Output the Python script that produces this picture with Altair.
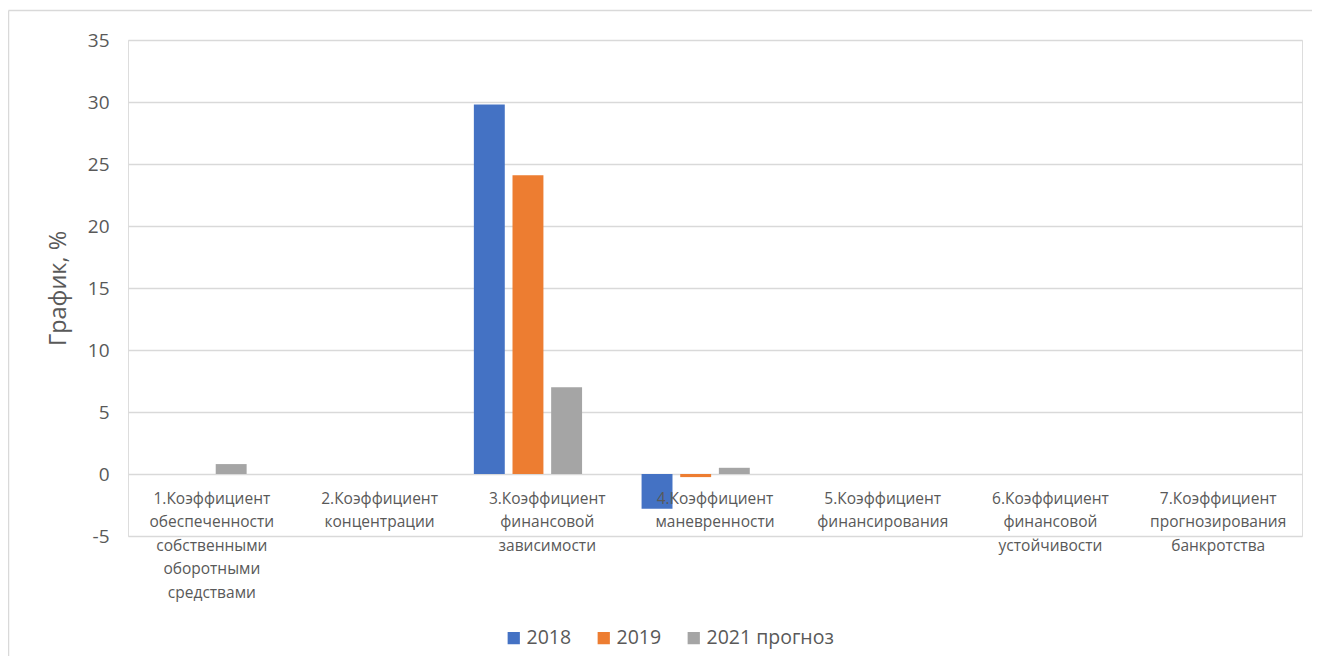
import altair as alt
import pandas as pd

categories = [
    "1.Коэффициент\nобеспеченности\nсобственными\nоборотными\nсредствами",
    "2.Коэффициент\nконцентрации",
    "3.Коэффициент\nфинансовой\nзависимости",
    "4.Коэффициент\nманевренности",
    "5.Коэффициент\nфинансирования",
    "6.Коэффициент\nфинансовой\nустойчивости",
    "7.Коэффициент\nпрогнозирования\nбанкротства",
]
series = ["2018", "2019", "2021 прогноз"]
offset_domain = ["2018", "2019", "2021 прогноз", "2020"]  # 4th slot empty in source chart
values_2018 = [0, 0, 29.8, -2.8, 0, 0, 0]
values_2019 = [0, 0, 24.1, -0.25, 0, 0, 0]
values_2021 = [0.8, 0, 7.0, 0.5, 0, 0, 0]
colors = ["#4472C4", "#ED7D31", "#A5A5A5"]
y_ticks = [-5, 0, 5, 10, 15, 20, 25, 30, 35]

rows = []
for s, vals in zip(series, [values_2018, values_2019, values_2021]):
    for c, v in zip(categories, vals):
        rows.append({"cat": c, "series": s, "value": v})
df = pd.DataFrame(rows)

FONT = "Open Sans"
GREY = "#595959"

bars = alt.Chart(df).mark_bar().encode(
    x=alt.X("cat:N", sort=categories, title=None,
            scale=alt.Scale(paddingInner=0, paddingOuter=0),
            axis=alt.Axis(labelAngle=0, labelExpr="split(datum.label, '\\n')",
                          labelPadding=-45, labelBaseline="top", labelFontSize=15.5,
                          labelLineHeight=23.5, labelColor=GREY, labelFont=FONT,
                          domain=False, ticks=False, grid=False, labelLimit=300,
                          labelOverlap=False, zindex=1)),
    xOffset=alt.XOffset("series:N", scale=alt.Scale(domain=offset_domain,
                                                     paddingInner=0.2, paddingOuter=0.27)),
    y=alt.Y("value:Q", title="График, %",
            scale=alt.Scale(domain=[-5, 35], nice=False, zero=False),
            axis=alt.Axis(values=y_ticks, labelExpr="datum.value + ''",
                          labelFontSize=19, labelColor=GREY,
                          labelFont=FONT, labelPadding=19, domain=False, ticks=False,
                          gridColor="#d9d9d9", gridWidth=1.3,
                          titleFontSize=23.5, titleColor=GREY, titleFont=FONT,
                          titleFontWeight="normal", titlePadding=17)),
    color=alt.Color("series:N", scale=alt.Scale(domain=series, range=colors),
                    legend=alt.Legend(title=None, orient="none", direction="horizontal",
                                      columns=3, legendX=376, legendY=588,
                                      symbolType="square", symbolSize=150,
                                      symbolStrokeWidth=0, labelFontSize=19.5,
                                      labelColor=GREY, labelFont=FONT,
                                      columnPadding=22, labelOffset=3)),
)

one = pd.DataFrame({"a": [0]})
frame_top = alt.Chart(one).mark_rule(color="#d9d9d9", strokeWidth=1.5).encode(
    x=alt.value(-119.5), x2=alt.value(1184), y=alt.value(-29.5))
frame_left = alt.Chart(one).mark_rule(color="#d9d9d9", strokeWidth=1.5).encode(
    x=alt.value(-119.5), y=alt.value(-29.5), y2=alt.value(640))

chart = alt.layer(frame_top, frame_left, bars).properties(
    width=1174, height=496,
    padding={"left": 120, "top": 32, "right": 10, "bottom": 120},
    autosize=alt.AutoSizeParams(type="none"),
).configure_view(stroke=None).configure(background="white")

chart.save("out.html", embed_options={"renderer": "svg", "actions": False})
